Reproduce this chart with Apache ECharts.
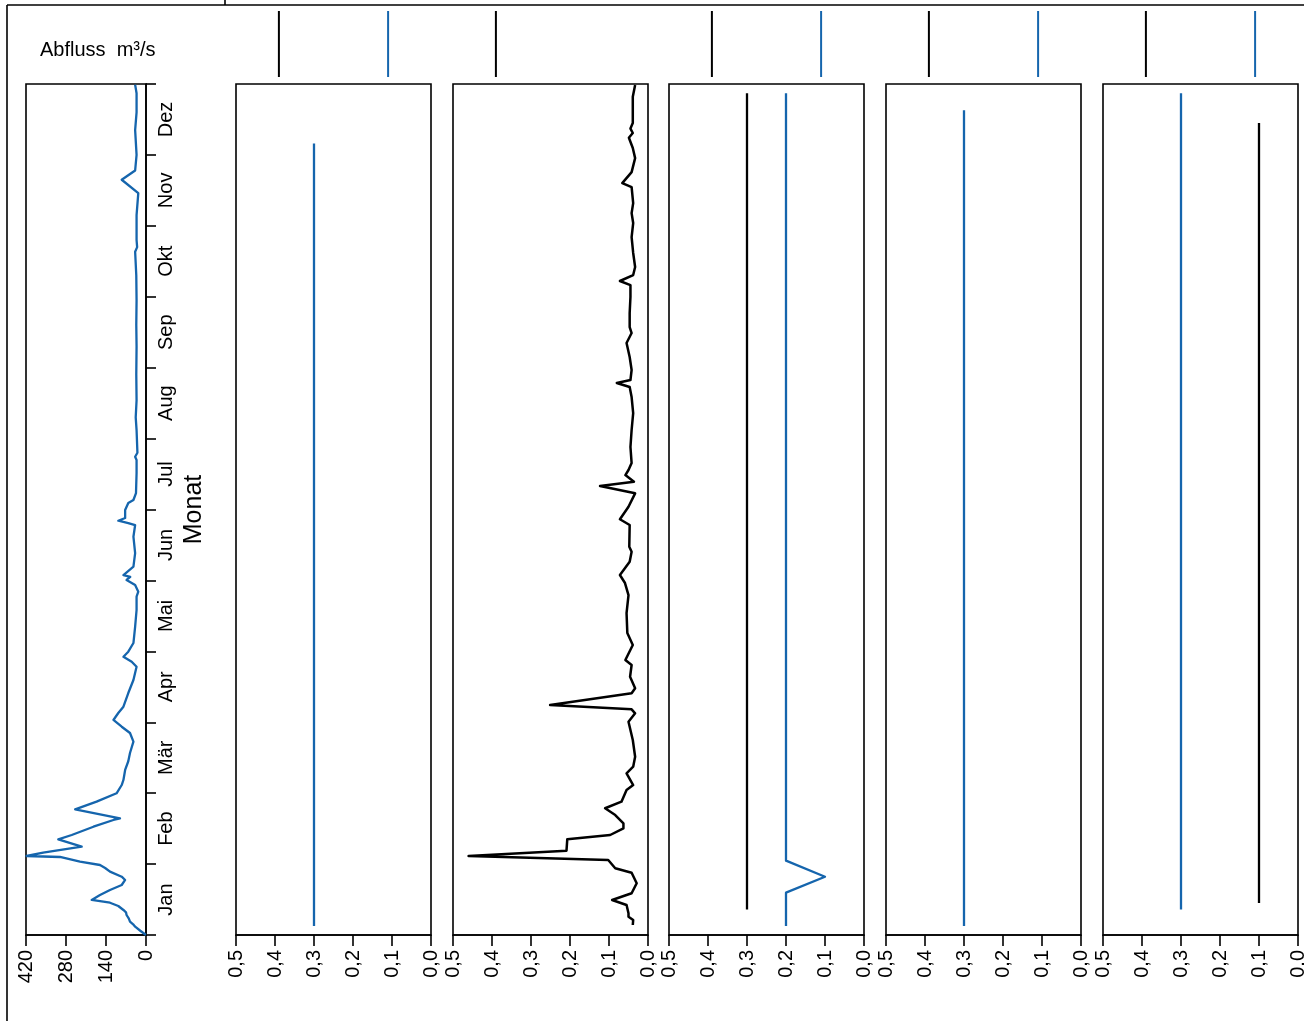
<!DOCTYPE html>
<html><head><meta charset="utf-8">
<script src="https://cdn.jsdelivr.net/npm/echarts@6/dist/echarts.min.js"></script>
<style>html,body{margin:0;padding:0;background:#fff}#c{width:1304px;height:1021px}</style>
</head><body><div id="c"></div>
<script>
// ---------------- data ----------------
const months = ['Jan','Feb','Mär','Apr','Mai','Jun','Jul','Aug','Sep','Okt','Nov','Dez'];
const abflussTicks = [0, 140, 280, 420];
const fractionTicks = [0, 0.1, 0.2, 0.3, 0.4, 0.5];

// time in months since 1 Jan, discharge in m3/s
const abflussMonth = [0.000,0.06,0.117,0.15,0.188,0.23,0.282,0.32,0.353,0.409,0.455,0.494,0.564,0.635,0.705,0.776,0.822,0.893,0.945,0.987,1.034,1.100,1.114,1.160,1.245,1.349,1.410,1.527,1.622,1.646,1.772,1.880,1.998,2.115,2.186,2.327,2.45,2.566,2.726,2.848,2.937,3.032,3.130,3.219,3.412,3.596,3.783,3.854,3.924,3.995,4.117,4.347,4.583,4.770,4.841,4.935,5.006,5.05,5.076,5.193,5.386,5.616,5.781,5.809,5.842,5.880,5.993,6.092,6.134,6.232,6.514,6.698,6.744,6.80,7.12,7.30,7.54,7.9,8.30,8.6,8.95,9.3,9.635,9.70,9.80,10.15,10.46,10.65,10.78,11.0,11.35,11.6,11.87,11.99];
const abflussValue = [0,20,38,45,56,60,68,70,79,97,126,190,161,126,85,73,85,126,143,161,231,301,418,360,225,307,260,184,114,91,248,173,103,85,79,73,62,56,44,56,85,114,97,79,62,44,33,50,79,62,44,38,33,33,27,38,68,55,79,44,38,44,38,62,97,73,73,62,44,35,33,33,38,30,33,36,33,34,33,34,33,34,38,31,33,33,27,85,38,33,38,33,33,38];

const p1BlueMonth = [0.127, 11.16];
const p1BlueValue = [0.3, 0.3];

const p2BlackMonth = [0.141,0.212,0.258,0.306,0.423,0.494,0.588,0.729,0.878,0.941,1.058,1.114,1.189,1.349,1.410,1.505,1.575,1.692,1.787,1.880,2.045,2.115,2.280,2.373,2.514,2.750,3.008,3.126,3.182,3.243,3.408,3.479,3.642,3.807,3.878,4.089,4.258,4.540,4.794,4.963,5.076,5.264,5.405,5.475,5.781,5.862,6.039,6.228,6.331,6.392,6.486,6.557,6.655,6.881,7.121,7.360,7.586,7.727,7.784,7.826,7.967,8.150,8.347,8.488,8.573,8.770,8.996,9.165,9.222,9.306,9.419,9.617,9.842,10.039,10.180,10.321,10.547,10.603,10.758,10.955,11.097,11.242,11.309,11.371,11.449,11.820,11.985];
const p2BlackValue = [0.039,0.038,0.050,0.050,0.055,0.092,0.042,0.029,0.042,0.084,0.102,0.460,0.209,0.207,0.097,0.063,0.063,0.084,0.110,0.068,0.055,0.038,0.055,0.038,0.033,0.039,0.050,0.033,0.042,0.251,0.042,0.033,0.046,0.042,0.058,0.039,0.053,0.055,0.050,0.059,0.072,0.047,0.042,0.048,0.047,0.072,0.050,0.033,0.123,0.036,0.058,0.050,0.042,0.045,0.042,0.038,0.042,0.047,0.080,0.045,0.042,0.047,0.055,0.042,0.047,0.047,0.045,0.045,0.072,0.038,0.033,0.038,0.042,0.038,0.042,0.038,0.042,0.066,0.042,0.033,0.039,0.049,0.039,0.045,0.039,0.039,0.033];

const p3BlackMonth = [0.36, 11.87];
const p3BlackValue = [0.3, 0.3];
const p3BlueMonth = [0.127, 0.597, 0.822, 1.048, 11.87];
const p3BlueValue = [0.2, 0.2, 0.1, 0.2, 0.2];

const p4BlueMonth = [0.127, 11.63];
const p4BlueValue = [0.3, 0.3];

const p5BlueMonth = [0.36, 11.87];
const p5BlueValue = [0.3, 0.3];
const p5BlackMonth = [0.45, 11.45];
const p5BlackValue = [0.1, 0.1];

// header marks (value position in panel scale)
const headerBlackValue = 0.39;
const headerBlueValue = 0.11;
const headerBlackPanels = [1, 2, 3, 4, 5];
const headerBluePanels = [1, 3, 4, 5];

// ---------------- styles / layout ----------------
const BLUE = '#1565ad';
const BLACK = '#000000';
const FONT = "'Liberation Sans', Arial, sans-serif";
const panelLeft = [26, 236, 453, 669, 886, 1103];
const panelWidth = [120, 195, 195, 195, 195, 195];
const TOP = 84, HEIGHT = 851;

function pairs(ys, xs) { return ys.map((m, i) => [xs[i], m]); }
const comma = v => (Math.round(v * 10) / 10).toFixed(1).replace('.', ',');

const grid = [], xAxis = [], yAxis = [], series = [];
for (let i = 0; i < 6; i++) {
  grid.push({ left: panelLeft[i], top: TOP, width: panelWidth[i], height: HEIGHT,
    show: true, borderColor: BLACK, borderWidth: 1.6, backgroundColor: 'transparent',
    containLabel: false, outerBoundsMode: 'none' });
}
// header grids
for (let i = 0; i < 6; i++) {
  grid.push({ left: panelLeft[i], top: 11, width: panelWidth[i], height: 66,
    show: false, containLabel: false, outerBoundsMode: 'none' });
}

const axisLabelBase = { color: BLACK, fontFamily: FONT, fontSize: 20, rotate: 90, margin: 15,
  showMinLabel: true, showMaxLabel: true };

// x axes for panels
xAxis.push({ gridIndex: 0, type: 'value', inverse: true, min: abflussTicks[0], max: abflussTicks[abflussTicks.length-1],
  interval: abflussTicks[1] - abflussTicks[0],
  axisLine: { show: true, lineStyle: { color: BLACK, width: 1.6 } },
  axisTick: { show: true, length: 11, lineStyle: { color: BLACK, width: 1.6 } },
  axisLabel: Object.assign({}, axisLabelBase, { formatter: v => String(Math.round(v)) }),
  splitLine: { show: false } });
for (let i = 1; i < 6; i++) {
  xAxis.push({ gridIndex: i, type: 'value', inverse: true, min: fractionTicks[0], max: fractionTicks[fractionTicks.length-1],
    interval: 0.1,
    axisLine: { show: true, lineStyle: { color: BLACK, width: 1.6 } },
    axisTick: { show: true, length: 11, lineStyle: { color: BLACK, width: 1.6 } },
    axisLabel: Object.assign({}, axisLabelBase, { formatter: comma }),
    splitLine: { show: false } });
}
// header x axes
for (let i = 0; i < 6; i++) {
  xAxis.push({ gridIndex: 6 + i, type: 'value', inverse: true, min: 0, max: 0.5, show: false });
}

// y axes
yAxis.push({ gridIndex: 0, type: 'value', position: 'right', offset: 0, min: 0, max: 12, interval: 1,
  axisLine: { show: true, lineStyle: { color: BLACK, width: 1.6 } },
  axisTick: { show: true, length: 10, lineStyle: { color: BLACK, width: 1.6 } },
  axisLabel: { show: false }, splitLine: { show: false } });
yAxis.push({ gridIndex: 0, type: 'category', position: 'right', offset: 0, data: months, boundaryGap: true,
  axisLine: { show: false }, axisTick: { show: false },
  axisLabel: { color: BLACK, fontFamily: FONT, fontSize: 20, rotate: 90, margin: 10, interval: 0 },
  name: 'Monat', nameLocation: 'middle', nameGap: 36, nameRotate: 90,
  nameTextStyle: { color: BLACK, fontFamily: FONT, fontSize: 25 },
  splitLine: { show: false } });
for (let i = 1; i < 6; i++) {
  yAxis.push({ gridIndex: i, type: 'value', min: 0, max: 12, show: false });
}
for (let i = 0; i < 6; i++) {
  yAxis.push({ gridIndex: 6 + i, type: 'value', min: 0, max: 1, show: false });
}

function line(xi, yi, data, color, w) {
  return { type: 'line', xAxisIndex: xi, yAxisIndex: yi, data: data, showSymbol: false, symbol: 'none',
    smooth: false, lineStyle: { color: color, width: w, join: 'round', cap: 'butt' }, itemStyle: { color: color },
    silent: true, animation: false, clip: false };
}
series.push(line(0, 0, pairs(abflussMonth, abflussValue), BLUE, 2.3));
series.push(line(1, 2, pairs(p1BlueMonth, p1BlueValue), BLUE, 2.3));
series.push(line(2, 3, pairs(p2BlackMonth, p2BlackValue), BLACK, 2.5));
series.push(line(3, 4, pairs(p3BlackMonth, p3BlackValue), BLACK, 2.3));
series.push(line(3, 4, pairs(p3BlueMonth, p3BlueValue), BLUE, 2.3));
series.push(line(4, 5, pairs(p4BlueMonth, p4BlueValue), BLUE, 2.3));
series.push(line(5, 6, pairs(p5BlueMonth, p5BlueValue), BLUE, 2.3));
series.push(line(5, 6, pairs(p5BlackMonth, p5BlackValue), BLACK, 2.3));
headerBlackPanels.forEach(p => series.push(line(6 + p, 7 + p, [[headerBlackValue, 0], [headerBlackValue, 1]], BLACK, 2)));
headerBluePanels.forEach(p => series.push(line(6 + p, 7 + p, [[headerBlueValue, 0], [headerBlueValue, 1]], BLUE, 2)));

const chart = echarts.init(document.getElementById('c'), null, { renderer: 'canvas' });
chart.setOption({
  backgroundColor: '#ffffff',
  animation: false,
  title: { text: 'Abfluss  m³/s', left: 35, top: 35,
    textStyle: { color: BLACK, fontFamily: FONT, fontSize: 20, fontWeight: 'normal' } },
  grid, xAxis, yAxis, series,
  graphic: [
    { type: 'line', shape: { x1: 7, y1: 5, x2: 1304, y2: 5 }, style: { stroke: BLACK, lineWidth: 1.6 } },
    { type: 'line', shape: { x1: 225, y1: 0, x2: 225, y2: 5 }, style: { stroke: BLACK, lineWidth: 1.6 } },
    { type: 'line', shape: { x1: 7, y1: 5, x2: 7, y2: 1021 }, style: { stroke: BLACK, lineWidth: 1.6 } }
  ]
});
</script>
</body></html>
